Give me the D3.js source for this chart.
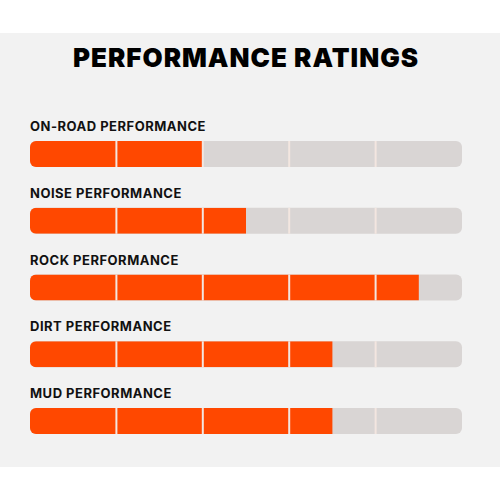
<!DOCTYPE html>
<html lang="en">
<head>
  <meta charset="utf-8">
  <title>Performance ratings</title>
  <script src="https://cdn.jsdelivr.net/npm/d3@7"></script>
  <style>
    body { margin: 0; background: #fff; }
  </style>
</head>
<body>
  <script>
    const categories = ["ON-ROAD PERFORMANCE", "NOISE PERFORMANCE", "ROCK PERFORMANCE", "DIRT PERFORMANCE", "MUD PERFORMANCE"];
    const ratings = [2, 2.5, 4.5, 3.5, 3.5];
    const maxRating = 5;
    const ticks = [1, 2, 3, 4];

    const width = 500, height = 500;
    const svg = d3.select("body").append("svg").attr("width", width).attr("height", height);

    // grey panel
    svg.append("rect").attr("x", 0).attr("y", 33).attr("width", width).attr("height", 434).attr("fill", "#f2f2f2");

    svg.append("text")
      .attr("x", 246).attr("y", 67)
      .attr("text-anchor", "middle")
      .attr("font-family", "Inter, sans-serif")
      .attr("font-weight", 900)
      .attr("font-size", 26)
      .attr("letter-spacing", 1)
      .attr("fill", "#000")
      .text("PERFORMANCE RATINGS");

    const x = d3.scaleLinear().domain([0, maxRating]).range([30, 462]);
    const y = d3.scaleBand().domain(categories).range([141, 141 + 66.75 * 5]).paddingInner(0);
    const barH = 26;

    const row = svg.selectAll("g.row").data(categories).enter().append("g")
      .attr("class", "row")
      .attr("transform", d => `translate(0,${y(d)})`);

    const defs = svg.append("defs");
    categories.forEach((c, i) => {
      defs.append("clipPath").attr("id", "clip" + i)
        .append("rect")
        .attr("x", x(0)).attr("y", 0)
        .attr("width", x(maxRating) - x(0)).attr("height", barH)
        .attr("rx", 6).attr("ry", 6);
    });

    row.append("text")
      .attr("x", x(0)).attr("y", -10)
      .attr("font-family", "Inter, sans-serif")
      .attr("font-weight", 700)
      .attr("font-size", 13)
      .attr("letter-spacing", 0.5)
      .attr("fill", "#111")
      .text(d => d);

    row.append("rect")
      .attr("x", x(0)).attr("y", 0)
      .attr("width", x(maxRating) - x(0)).attr("height", barH)
      .attr("rx", 6).attr("ry", 6)
      .attr("fill", "#d9d5d4");

    row.append("rect")
      .attr("clip-path", (d, i) => `url(#clip${i})`)
      .attr("x", x(0)).attr("y", 0)
      .attr("width", (d, i) => x(ratings[i]) - x(0)).attr("height", barH)
      .attr("fill", "#ff4800");

    row.selectAll("line").data(ticks).enter().append("line")
      .attr("x1", d => x(d)).attr("x2", d => x(d))
      .attr("y1", 0).attr("y2", barH)
      .attr("stroke", "#f3e6e0")
      .attr("stroke-width", 2);
  </script>
</body>
</html>
